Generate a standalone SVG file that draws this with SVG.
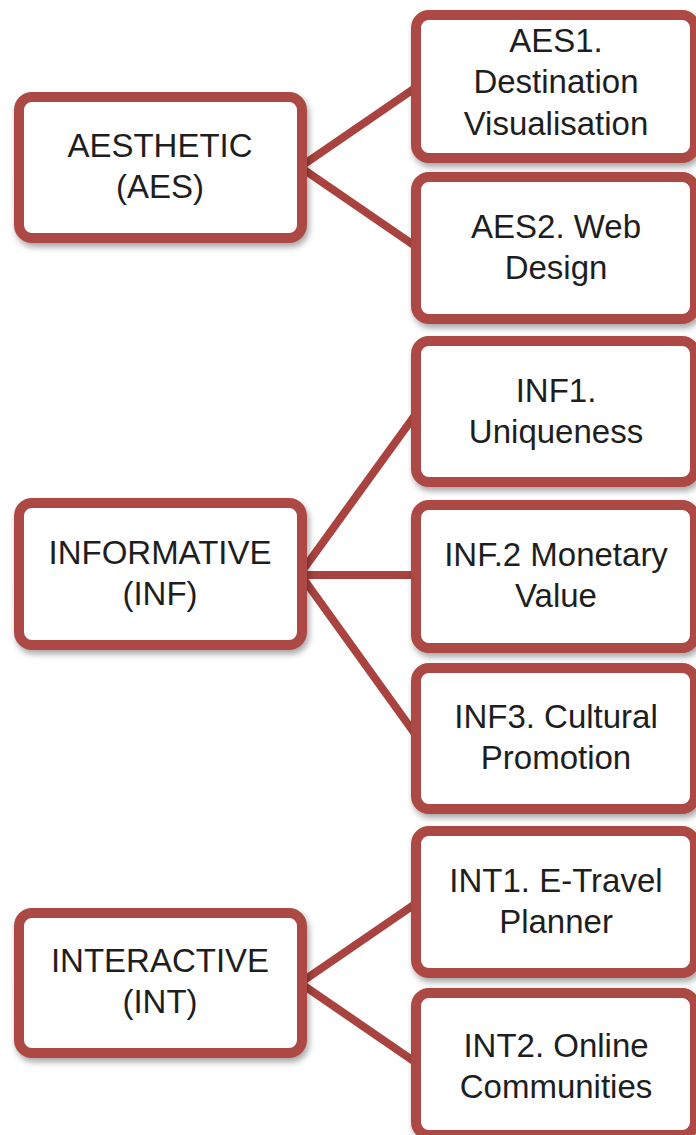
<svg xmlns="http://www.w3.org/2000/svg" width="696" height="1135" viewBox="0 0 696 1135">
  <defs>
    <filter id="sh" x="-10%" y="-10%" width="125%" height="130%">
      <feDropShadow dx="2" dy="4" stdDeviation="3" flood-color="#000" flood-opacity="0.35"/>
    </filter>
    <style>
      .box { fill: #ffffff; stroke: #AD4844; stroke-width: 10; filter: url(#sh); }
      .lbl { font-family: "Liberation Sans", Arial, sans-serif; font-size: 33px; fill: #1e1e1e; text-anchor: middle; }
      .conn { stroke: #A8433F; stroke-width: 8; fill: none; stroke-linecap: butt; }
    </style>
  </defs>
  <rect width="696" height="1135" fill="#ffffff"/>

  <g id="connectors">
    <line class="conn" x1="300" y1="167" x2="418" y2="86"/>
    <line class="conn" x1="300" y1="167" x2="418" y2="248"/>
    <line class="conn" x1="300" y1="574" x2="418" y2="411"/>
    <line class="conn" x1="300" y1="575" x2="418" y2="575"/>
    <line class="conn" x1="300" y1="574" x2="418" y2="738"/>
    <line class="conn" x1="300" y1="983" x2="418" y2="902"/>
    <line class="conn" x1="300" y1="983" x2="418" y2="1064"/>
  </g>

  <g id="aes">
    <rect class="box" x="19" y="97" width="283" height="141" rx="13"/>
    <text class="lbl" x="160" y="157">AESTHETIC</text>
    <text class="lbl" x="160" y="198">(AES)</text>
  </g>
  <g id="aes1">
    <rect class="box" x="416" y="15" width="279" height="143" rx="13"/>
    <text class="lbl" x="556" y="52">AES1.</text>
    <text class="lbl" x="556" y="93">Destination</text>
    <text class="lbl" x="556" y="135">Visualisation</text>
  </g>
  <g id="aes2">
    <rect class="box" x="416" y="177" width="279" height="142" rx="13"/>
    <text class="lbl" x="556" y="238">AES2. Web</text>
    <text class="lbl" x="556" y="279">Design</text>
  </g>

  <g id="inf">
    <rect class="box" x="19" y="503" width="283" height="142" rx="13"/>
    <text class="lbl" x="160" y="564">INFORMATIVE</text>
    <text class="lbl" x="160" y="605">(INF)</text>
  </g>
  <g id="inf1">
    <rect class="box" x="416" y="341" width="279" height="141" rx="13"/>
    <text class="lbl" x="556" y="402">INF1.</text>
    <text class="lbl" x="556" y="443">Uniqueness</text>
  </g>
  <g id="inf2">
    <rect class="box" x="416" y="505" width="279" height="143" rx="13"/>
    <text class="lbl" x="556" y="566">INF.2 Monetary</text>
    <text class="lbl" x="556" y="607">Value</text>
  </g>
  <g id="inf3">
    <rect class="box" x="416" y="668" width="279" height="141" rx="13"/>
    <text class="lbl" x="556" y="728">INF3. Cultural</text>
    <text class="lbl" x="556" y="769">Promotion</text>
  </g>

  <g id="int">
    <rect class="box" x="19" y="913" width="283" height="140" rx="13"/>
    <text class="lbl" x="160" y="972">INTERACTIVE</text>
    <text class="lbl" x="160" y="1013">(INT)</text>
  </g>
  <g id="int1">
    <rect class="box" x="416" y="831" width="279" height="142" rx="13"/>
    <text class="lbl" x="556" y="892">INT1. E-Travel</text>
    <text class="lbl" x="556" y="933">Planner</text>
  </g>
  <g id="int2">
    <rect class="box" x="416" y="993" width="279" height="142" rx="13"/>
    <text class="lbl" x="556" y="1057">INT2. Online</text>
    <text class="lbl" x="556" y="1098">Communities</text>
  </g>
</svg>
